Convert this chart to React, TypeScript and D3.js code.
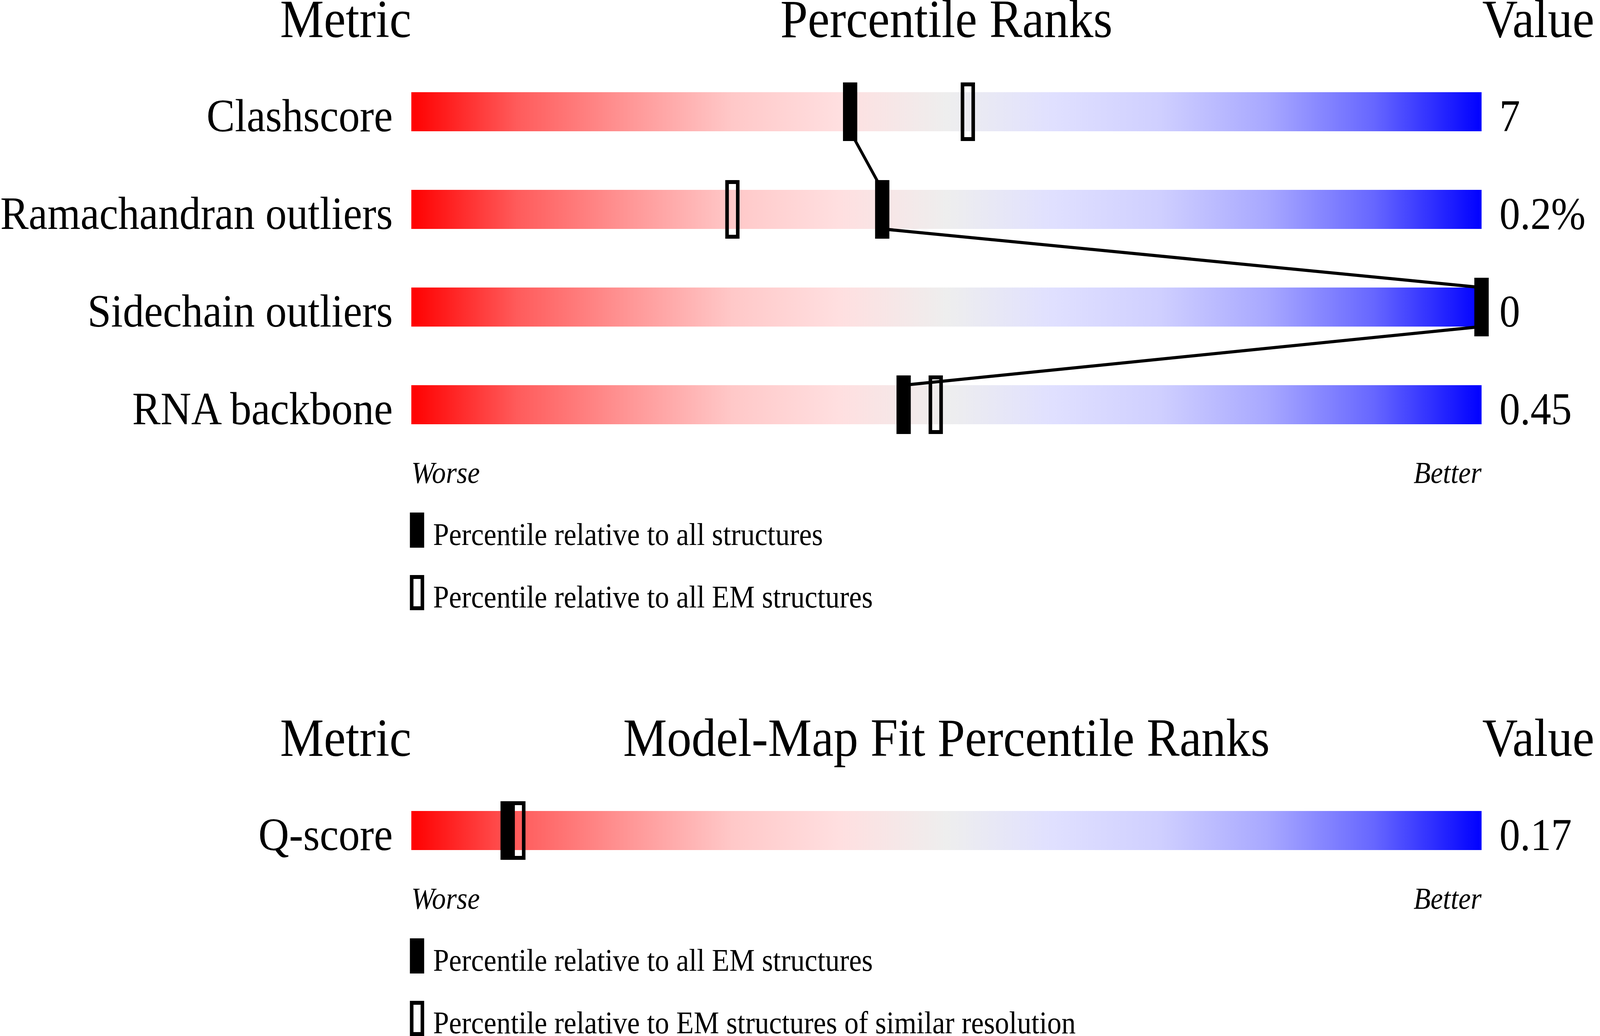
import React from "react";
import * as d3 from "d3";

// ---------- data ----------
const metrics = ["Clashscore", "Ramachandran outliers", "Sidechain outliers", "RNA backbone"];
const metricValues = ["7", "0.2%", "0", "0.45"];
const pctAll = [41, 44, 100, 46];
const pctEM = [52, 30, 100, 49];
const legendTop = ["Percentile relative to all structures", "Percentile relative to all EM structures"];

const fitMetrics = ["Q-score"];
const fitValues = ["0.17"];
const fitPctAllEM = [9];
const fitPctSimRes = [10];
const legendBottom = ["Percentile relative to all EM structures", "Percentile relative to EM structures of similar resolution"];

const gradientStops = [
  { o: 0, c: "#ff0000" },
  { o: 0.1, c: "#ff5c5c" },
  { o: 0.2, c: "#ff9494" },
  { o: 0.3, c: "#ffc8c8" },
  { o: 0.4, c: "#ffdfe0" },
  { o: 0.5, c: "#eeeeee" },
  { o: 0.6, c: "#e0e0ff" },
  { o: 0.7, c: "#cfcfff" },
  { o: 0.8, c: "#a8a8ff" },
  { o: 0.9, c: "#6666ff" },
  { o: 1, c: "#0000ff" },
];

// ---------- layout ----------
const W = 4485;
const H = 2652;
const BAR_X0 = 1153;
const BAR_X1 = 4153;
const BAR_H = 100;
const ROW_STEP = 250;
const FONT = "'Liberation Serif', 'Times New Roman', Times, serif";

const x = d3.scaleLinear().domain([0, 100]).range([BAR_X0, BAR_X1]);

type PanelProps = {
  titleY: number;
  title: string;
  labels: string[];
  values: string[];
  filled: number[];
  open: number[];
  legend: string[];
  connect: boolean;
};

function Panel({ titleY, title, labels, values, filled, open, legend, connect }: PanelProps) {
  const firstTop = titleY + 141;
  const rowTop = d3.scaleLinear().domain([0, 1]).range([firstTop, firstTop + ROW_STEP]);
  const n = labels.length;
  const lastBottom = rowTop(n - 1) + BAR_H;
  const markW = 30;
  const markH = 140;
  const sw = 10;

  const lines: { x1: number; y1: number; x2: number; y2: number }[] = [];
  if (connect) {
    for (let i = 0; i < n - 1; i++) {
      lines.push({
        x1: x(filled[i]),
        y1: rowTop(i) + BAR_H,
        x2: x(filled[i + 1]),
        y2: rowTop(i + 1),
      });
    }
  }

  return (
    <g>
      <text x={BAR_X0} y={titleY} textAnchor="end" fontSize={138} fontFamily={FONT}>Metric</text>
      <text x={(BAR_X0 + BAR_X1) / 2} y={titleY} textAnchor="middle" fontSize={138} fontFamily={FONT}>{title}</text>
      <text x={BAR_X1 + 2} y={titleY} textAnchor="start" fontSize={138} fontFamily={FONT}>Value</text>

      {labels.map((lab, i) => (
        <g key={"row" + i}>
          <text x={BAR_X0 - 52} y={rowTop(i) + BAR_H} textAnchor="end" fontSize={119} fontFamily={FONT}>{lab}</text>
          <rect x={BAR_X0} y={rowTop(i)} width={BAR_X1 - BAR_X0} height={BAR_H} fill="url(#pctGrad)" />
          <text x={BAR_X1 + 50} y={rowTop(i) + BAR_H} textAnchor="start" fontSize={116} fontFamily={FONT}>{values[i]}</text>
        </g>
      ))}

      {lines.map((l, i) => (
        <line key={"ln" + i} x1={l.x1} y1={l.y1} x2={l.x2} y2={l.y2} stroke="#000" strokeWidth={8} />
      ))}

      {labels.map((_, i) => (
        <g key={"mk" + i}>
          <rect
            x={x(open[i]) - markW / 2}
            y={rowTop(i) + BAR_H / 2 - markH / 2}
            width={markW}
            height={markH}
            fill="none"
            stroke="#000"
            strokeWidth={sw}
          />
          <rect
            x={x(filled[i]) - markW / 2}
            y={rowTop(i) + BAR_H / 2 - markH / 2}
            width={markW}
            height={markH}
            fill="#000"
            stroke="#000"
            strokeWidth={sw}
          />
        </g>
      ))}

      <text x={BAR_X0} y={lastBottom + 150} textAnchor="start" fontSize={78} fontStyle="italic" fontFamily={FONT}>Worse</text>
      <text x={BAR_X1} y={lastBottom + 150} textAnchor="end" fontSize={78} fontStyle="italic" fontFamily={FONT}>Better</text>

      {legend.map((txt, i) => {
        const top = lastBottom + 226 + i * 160;
        return (
          <g key={"lg" + i}>
            <rect
              x={1154}
              y={top + 5}
              width={markW}
              height={80}
              fill={i === 0 ? "#000" : "none"}
              stroke="#000"
              strokeWidth={sw}
            />
            <text x={1214} y={top + 83} textAnchor="start" fontSize={80} fontFamily={FONT}>{txt}</text>
          </g>
        );
      })}
    </g>
  );
}

export default function App() {
  return (
    <>
      <style>{`html,body{margin:0;padding:0;overflow:hidden;background:#fff;}`}</style>
      <svg
        viewBox={`0 0 ${W} ${H}`}
        preserveAspectRatio="none"
        style={{ display: "block", width: "100vw", height: "100vh", background: "#fff" }}
      >
        <defs>
          <linearGradient id="pctGrad" x1="0" x2="1" y1="0" y2="0">
            {gradientStops.map((s, i) => (
              <stop key={i} offset={s.o} stopColor={s.c} />
            ))}
          </linearGradient>
        </defs>
        <Panel
          titleY={95}
          title="Percentile Ranks"
          labels={metrics}
          values={metricValues}
          filled={pctAll}
          open={pctEM}
          legend={legendTop}
          connect={true}
        />
        <Panel
          titleY={1935}
          title="Model-Map Fit Percentile Ranks"
          labels={fitMetrics}
          values={fitValues}
          filled={fitPctAllEM}
          open={fitPctSimRes}
          legend={legendBottom}
          connect={false}
        />
      </svg>
    </>
  );
}
